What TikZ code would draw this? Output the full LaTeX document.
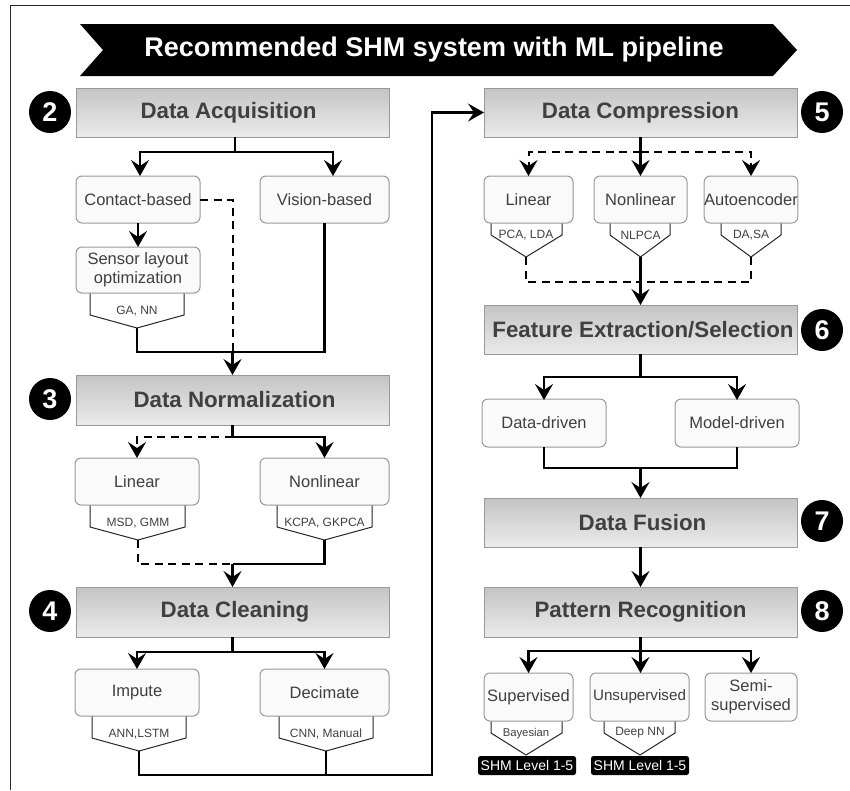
\documentclass[tikz,border=0pt]{standalone}
\usepackage{fontspec}
\setmainfont{Liberation Sans}
\usetikzlibrary{arrows.meta,calc}
\definecolor{txt}{gray}{0.25}
\definecolor{edge}{gray}{0.6}
\tikzset{
  hdr/.style={draw=edge,line width=1pt,top color=black!23,bottom color=black!8,text=txt,font=\fontsize{22.3}{25}\selectfont\bfseries,inner sep=0pt,outer sep=0pt},
  rbox/.style={draw=edge,line width=1pt,rounded corners=6pt,fill=black!2,text=txt,font=\fontsize{16.5}{19}\selectfont,align=center,inner sep=0pt,outer sep=0pt},
  num/.style={circle,fill=black,text=white,minimum size=42pt,inner sep=0pt,font=\fontsize{27}{30}\selectfont\bfseries},
  pent/.style={draw=black!85,line width=1pt,fill=white},
  plabel/.style={text=txt,font=\fontsize{12}{14}\selectfont,inner sep=0pt},
  tagbox/.style={fill=black,rounded corners=2.5pt,text=white,font=\fontsize{14}{16}\selectfont,inner sep=0pt,outer sep=0pt},
  conn/.style={draw=black,line width=2.3pt,line cap=butt},
  dconn/.style={draw=black,line width=2pt,dash pattern=on 8pt off 5.5pt},
  tip/.style={-{Stealth[length=16pt,width=18pt,inset=6pt]}},
}
\newcommand{\hbx}[6]{\pgfmathsetmacro\bcx{(#2+#4)/2}\pgfmathsetmacro\bcy{(#3+#5)/2}\pgfmathsetmacro\bwd{#4-#2}\pgfmathsetmacro\bht{#5-#3}
  \node[hdr,minimum width=\bwd pt,minimum height=\bht pt] (#1) at (\bcx,\bcy) {\raisebox{-2.5pt}{#6}};}
\newcommand{\rbx}[6]{\pgfmathsetmacro\bcx{(#2+#4)/2}\pgfmathsetmacro\bcy{(#3+#5)/2}\pgfmathsetmacro\bwd{#4-#2}\pgfmathsetmacro\bht{#5-#3}
  \node[rbox,minimum width=\bwd pt,minimum height=\bht pt] (#1) at (\bcx,\bcy) {\raisebox{-1.5pt}{#6}};}
\newcommand{\twol}[2]{\raisebox{-1.5pt}{\begin{tabular}{@{}c@{}}#1\\#2\end{tabular}}}
% name x1 x2 ytop yside xtip ytip text texty
\newcommand{\pnt}[9]{\draw[pent] (#2,#4) -- (#2,#5) -- (#6,#7) coordinate (#1) -- (#3,#5) -- (#3,#4);
  \node[plabel] (#1l) at (#6,#9) {#8};}
\begin{document}
\begin{tikzpicture}[x=1pt,y=-1pt]
\useasboundingbox (0,0) rectangle (850,790);
\fill[white] (0,0) rectangle (850,790);
\coordinate (fa) at (10,790); \coordinate (fb) at (10,5); \coordinate (fc) at (850,5);
\draw[black!85,line width=1pt] (fa) -- (fb) -- (fc);
% banner
\fill[black] (80,24) -- (773,24) -- (797,50) -- (773,76) -- (80,76) -- (103,50) -- cycle;
\node[text=white,font=\fontsize{27}{30}\selectfont\bfseries,inner sep=0pt] (title) at (434,50) {\raisebox{-2pt}{Recommended SHM system with ML pipeline}};
% pentagons
\pnt{pga}{90}{184}{293}{315}{137}{328}{GA, NN}{311}
\pnt{pmsd}{90}{185}{505}{527}{138}{540}{MSD, GMM}{523}
\pnt{pkc}{277}{372}{505}{527}{324.5}{540}{KCPA, GKPCA}{523}
\pnt{pann}{92}{186}{716}{738}{139}{751}{ANN,LSTM}{734}
\pnt{pcnn}{279}{373}{716}{738}{326}{751}{CNN, Manual}{734}
\pnt{ppca}{491}{562}{223}{235}{526}{257}{PCA, LDA}{235}
\pnt{pnl}{610}{670}{223}{235}{640.5}{257}{NLPCA}{235}
\pnt{pda}{721}{781}{223}{235}{751}{257}{DA,SA}{235}
\pnt{pbay}{491}{562}{721}{733}{526}{755}{\fontsize{11.3}{13}\selectfont Bayesian}{734}
\pnt{pdeep}{604}{675}{721}{733}{640}{755}{Deep NN}{733}
% headers
\hbx{acq}{76}{88}{389}{137}{\kern-8pt Data Acquisition}
\hbx{norm}{76}{375}{389}{425}{\kern4pt Data Normalization}
\hbx{clean}{76}{587}{389}{637}{\kern5pt Data Cleaning}
\hbx{comp}{484}{88}{797}{137}{Data Compression}
\hbx{feat}{484}{305}{797}{354}{\kern5pt Feature Extraction/Selection}
\hbx{fus}{484}{498}{797}{547}{\kern4pt Data Fusion}
\hbx{pat}{484}{587}{797}{637}{Pattern Recognition}
% numbers
\node[num] (n2) at (50,112) {2};
\node[num] (n3) at (50,399) {3};
\node[num] (n4) at (50,611) {4};
\node[num] (n5) at (822,112) {5};
\node[num] (n6) at (822,330) {6};
\node[num] (n7) at (822,521) {7};
\node[num] (n8) at (822,611) {8};
% boxes
\rbx{contact}{76}{176}{200}{223}{Contact-based}
\rbx{vision}{260}{176}{389}{223}{Vision-based}
\rbx{sensor}{76}{247}{200}{293}{\twol{Sensor layout}{optimization}}
\rbx{lin}{75}{458}{199}{505}{Linear}
\rbx{nonlin}{260}{458}{389}{505}{Nonlinear}
\rbx{imp}{75}{669}{199}{716}{Impute}
\rbx{dec}{260}{669}{389}{716}{Decimate}
\rbx{clin}{484}{176}{573}{223}{Linear}
\rbx{cnon}{594}{176}{687}{223}{Nonlinear}
\rbx{auto}{705}{176}{797}{223}{Autoencoder}
\rbx{ddr}{482}{399}{606}{447}{Data-driven}
\rbx{mdr}{675}{399}{799}{447}{Model-driven}
\rbx{sup}{484}{673}{573}{721}{Supervised}
\rbx{uns}{590}{673}{689}{721}{\fontsize{15.2}{18}\selectfont Unsupervised}
\rbx{semi}{705}{673}{797}{721}{\twol{Semi-}{supervised}}
% tags
\node[tagbox,minimum width=98pt,minimum height=19pt] (t1) at (527,765.5) {SHM Level 1-5};
\node[tagbox,minimum width=98pt,minimum height=19pt] (t2) at (640,765.5) {SHM Level 1-5};
% --- connectors
% acquisition
\coordinate (a1) at (235,152);
\draw[conn] ([xshift=2.5pt]acq.south) -- (a1);
\draw[conn,tip] (a1) -| ([xshift=2pt]contact.north);
\draw[conn,tip] (a1) -| ([xshift=8.5pt]vision.north);
\draw[conn,tip] (contact.south) -- (sensor.north);
\coordinate (a2) at (232.5,352);
\draw[dconn] (contact.east) -| (a2);
\draw[conn] (pga) |- (a2);
\draw[conn] (vision.south) |- (a2);
\draw[conn,tip] (a2) -- (a2 |- norm.north);
% normalization
\coordinate (b1) at (232.5,437);
\draw[conn] (norm.south) -- (b1);
\draw[conn,tip] (b1) -| (nonlin.north);
\draw[dconn,tip] (b1) -| (lin.north);
\coordinate (b2) at (232.5,564);
\draw[dconn] (pmsd) |- (b2);
\draw[conn] (pkc) |- (b2);
\draw[conn,tip] (b2) -- (b2 |- clean.north);
% cleaning
\coordinate (c1) at (232.5,652);
\draw[conn] (clean.south) -- (c1);
\draw[conn,tip] (c1) -| (imp.north);
\draw[conn,tip] (c1) -| (dec.north);
\coordinate (c2) at (326,775);
\coordinate (c3) at (432,775);
\draw[conn] (pcnn) -- (c2);
\draw[conn,tip] (pann) |- (c3) |- (comp.west);
% compression
\coordinate (d1) at (640.5,152);
\draw[dconn,tip] (d1) -| (clin.north);
\draw[dconn,tip] (d1) -| (auto.north);
\draw[conn,tip] (comp.south) -- (cnon.north);
\coordinate (d2) at (640.5,282);
\draw[dconn] (ppca) |- (d2);
\draw[dconn] (pda) |- (d2);
\draw[conn,tip] (pnl) -- (pnl |- feat.north);
% feature
\coordinate (e1) at (640.5,377);
\draw[conn] (feat.south) -- (e1);
\draw[conn,tip] (e1) -| ([yshift=-1pt]ddr.north);
\draw[conn,tip] (e1) -| ([yshift=-1pt]mdr.north);
\coordinate (e2) at (640.5,468);
\draw[conn] (ddr.south) |- (e2);
\draw[conn] (mdr.south) |- (e2);
\draw[conn,tip] (e2) -- (e2 |- fus.north);
\draw[conn,tip] (fus.south) -- (pat.north);
% pattern
\coordinate (f1) at (640.5,651);
\draw[conn,tip] (pat.south) -- (uns.north -| pat.south);
\draw[conn,tip] (f1) -| (sup.north);
\draw[conn,tip] (f1) -| (semi.north);
\end{tikzpicture}
\end{document}
